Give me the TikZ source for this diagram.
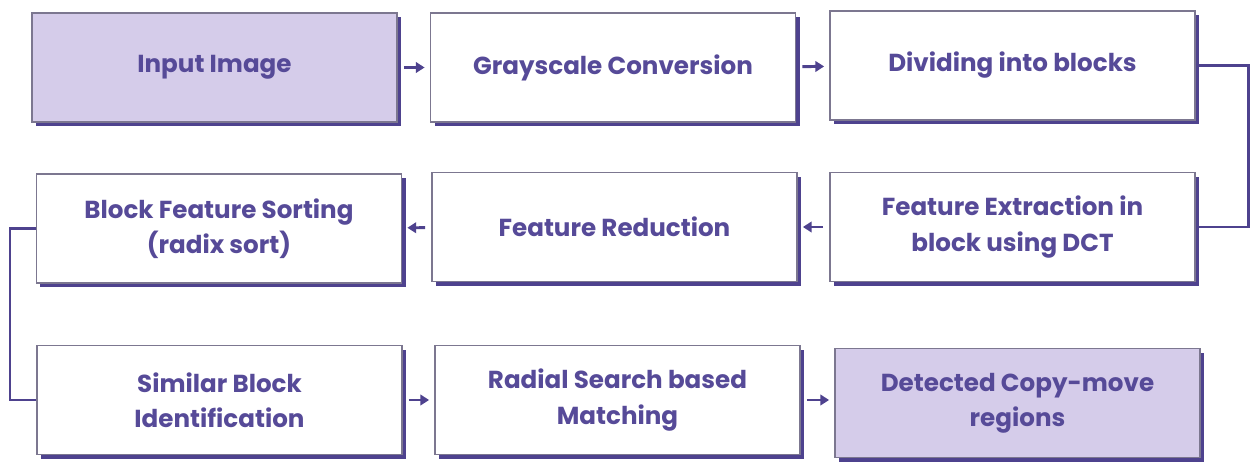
\documentclass[tikz,border=0pt]{standalone}
\usepackage{fontspec}
\setmainfont{Poppins}
\usepackage{tikz}
\usetikzlibrary{arrows.meta, positioning, shadows}
\definecolor{inkpurple}{HTML}{564A98}
\definecolor{edgegray}{HTML}{7C7790}
\definecolor{shadepurple}{HTML}{4E428E}
\definecolor{lavender}{HTML}{D5CCEA}

\tikzset{
  stage/.style={draw=edgegray, line width=0.7pt, fill=white,
    minimum width=365*0.02cm, minimum height=109*0.02cm,
    text=inkpurple, align=center, inner sep=2pt,
    font=\fontsize{14}{20}\selectfont\bfseries,
    drop shadow={shadow xshift=0.08cm, shadow yshift=-0.08cm,
      fill=shadepurple, opacity=1}},
  endstage/.style={stage, fill=lavender},
  flow/.style={-{Triangle[length=5pt, width=6pt]}, line width=1.7pt,
    draw=shadepurple, shorten <=3.5pt, shorten >=3pt},
  link/.style={draw=shadepurple, line width=1.4pt}
}

\begin{document}
\begin{tikzpicture}[x=0.02cm, y=-0.02cm]
  \useasboundingbox[fill=white] (0,0) rectangle (1251,470);

  % top row, left to right
  \node[endstage] (input) at (214.5,67.5) {Input Image};
  \node[stage] (gray) at (613,67.5) {Grayscale Conversion};
  \node[stage] (divide) at (1012.5,65.5) {Dividing into blocks};

  % middle row, right to left
  \node[stage] (extract) at (1012.5,227) {Feature Extraction in\\ block using DCT};
  \node[stage] (reduce) at (614.5,227) {Feature Reduction};
  \node[stage] (sorting) at (219,228.5) {Block Feature Sorting\\ (radix sort)};

  % bottom row, left to right
  \node[stage] (similar) at (219.5,400) {Similar Block\\ Identification};
  \node[stage] (radial) at (617.5,400) {Radial Search based\\ Matching};
  \node[endstage] (detect) at (1017.5,403) {Detected Copy-move\\ regions};

  \draw[flow] (input) -- (gray);
  \draw[flow] (gray) -- (divide);
  \draw[link] (divide.east) -- ++(53,0) |- (extract.east);
  \draw[flow] (extract) -- (reduce);
  \draw[flow] (reduce) -- (sorting);
  \draw[link] (sorting.west) -- ++(-26,0) |- (similar.west);
  \draw[flow] (similar) -- (radial);
  \draw[flow] (radial.east) -- (radial.east -| detect.west);
\end{tikzpicture}
\end{document}
